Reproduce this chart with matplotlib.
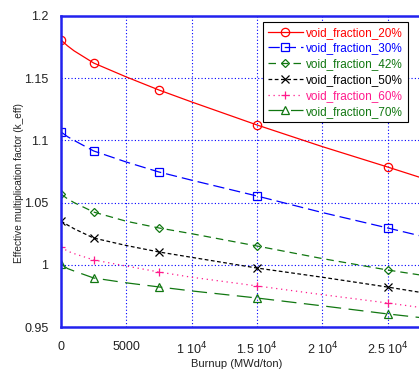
import matplotlib
matplotlib.use("Agg")
import matplotlib.pyplot as plt
from matplotlib.ticker import FixedLocator, FixedFormatter

plt.rcParams['font.family'] = ['Liberation Sans', 'DejaVu Sans']

burnup = [0, 500, 1000, 2500, 5000, 7500, 10000, 15000, 20000, 25000, 28000]
marker_idx = [0, 3, 5, 7, 9]

vf20 = [1.1807, 1.176, 1.172, 1.1622, 1.151, 1.1405, 1.1309, 1.1124, 1.095, 1.0786, 1.0685]
vf30 = [1.1068, 1.103, 1.100, 1.0915, 1.0826, 1.0746, 1.068, 1.0553, 1.042, 1.0296, 1.022]
vf42 = [1.0569, 1.053, 1.050, 1.0424, 1.035, 1.0296, 1.025, 1.0151, 1.005, 0.9958, 0.991]
vf50 = [1.0352, 1.032, 1.029, 1.0215, 1.0155, 1.0103, 1.006, 0.9974, 0.990, 0.9821, 0.977]
vf60 = [1.0143, 1.011, 1.009, 1.0039, 0.999, 0.9942, 0.990, 0.983, 0.976, 0.9693, 0.965]
vf70 = [1.0006, 0.997, 0.995, 0.9894, 0.9855, 0.9822, 0.979, 0.9733, 0.967, 0.9605, 0.957]

labels = ['void_fraction_20%', 'void_fraction_30%', 'void_fraction_42%',
          'void_fraction_50%', 'void_fraction_60%', 'void_fraction_70%']

xticks = [0, 5000, 10000, 15000, 20000, 25000]
xticklabels = ['0', '5000', r'1 10$^4$', r'1.5 10$^4$', r'2 10$^4$', r'2.5 10$^4$']
yticks = [0.95, 1.0, 1.05, 1.1, 1.15, 1.2]
yticklabels = ['0.95', '1', '1.05', '1.1', '1.15', '1.2']

fig = plt.figure(figsize=(4.19, 3.72), dpi=100)
W, H = 419, 372
x0, x1 = 61, 453
y_top, y_bot = 16, 327
ax = fig.add_axes([x0 / W, 1 - y_bot / H, (x1 - x0) / W, (y_bot - y_top) / H])

styles = [
    (vf20, '#ff0000', '-', 'o'),
    (vf30, '#0000ff', (0, (9, 4)), 's'),
    (vf42, '#117711', (0, (6, 4)), 'D'),
    (vf50, '#000000', (0, (3, 2)), 'x'),
    (vf60, '#ff1a8c', (0, (1, 3)), '+'),
    (vf70, '#117711', (0, (12, 6)), '^'),
]
for (vals, c, ls, m), lab in zip(styles, labels):
    ms = 4.5 if m == 'D' else 6
    ax.plot(burnup, vals, color=c, linestyle=ls, linewidth=0.9, marker=m,
            markevery=marker_idx, markersize=ms, markerfacecolor='none',
            markeredgecolor=c, markeredgewidth=0.9, label=lab)

ax.set_xlim(0, 30000)
ax.set_ylim(0.95, 1.2)
ax.xaxis.set_major_locator(FixedLocator(xticks))
ax.xaxis.set_major_formatter(FixedFormatter(xticklabels))
ax.yaxis.set_major_locator(FixedLocator(yticks))
ax.yaxis.set_major_formatter(FixedFormatter(yticklabels))
ax.tick_params(axis='both', length=0, labelsize=9, colors='#222222')
ax.tick_params(axis='x', pad=10)
ax.tick_params(axis='y', pad=9)
ax.grid(True, color='#0000ff', linestyle=(0, (1, 2)), linewidth=0.8)
for s in ['left', 'bottom', 'top']:
    ax.spines[s].set_color('#2222ee')
    ax.spines[s].set_linewidth(1.8)
ax.spines['top'].set_linestyle((0, (1, 1)))
ax.spines['right'].set_visible(False)

fig.text(237 / W, 1 - 364 / H, 'Burnup (MWd/ton)', ha='center', va='center',
         fontsize=8, color='#222222')
fig.text(19 / W, 1 - 183 / H, 'Effective multiplication factor (k_eff)',
         ha='center', va='center', rotation=90, fontsize=7.3, color='#222222')

leg = fig.legend(loc='upper left', bbox_to_anchor=(263 / W, 1 - 22 / H),
                 fontsize=8.5, frameon=True, fancybox=False, edgecolor='black',
                 framealpha=1, borderpad=0.4, labelspacing=0.32,
                 handlelength=3.0, handletextpad=0.25, borderaxespad=0)
leg.get_frame().set_linewidth(0.8)
for txt, (vals, c, ls, m) in zip(leg.get_texts(), styles):
    txt.set_color(c)

fig.savefig('out.png', dpi=100)
